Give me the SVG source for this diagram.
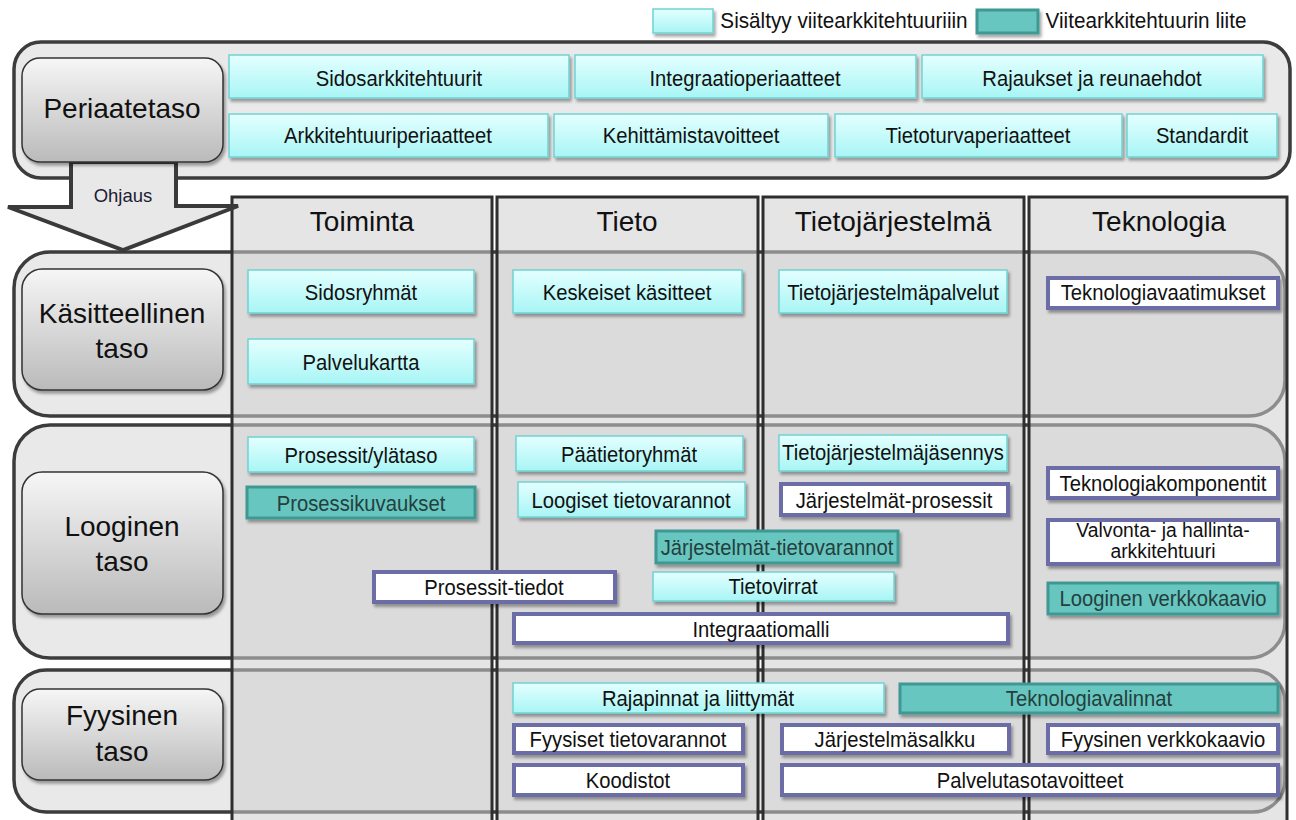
<svg xmlns="http://www.w3.org/2000/svg" width="1296" height="820" viewBox="0 0 1296 820">
  <defs>
    <linearGradient id="gCyan" x1="0" y1="0" x2="0" y2="1">
      <stop offset="0" stop-color="#e4ffff"/>
      <stop offset="1" stop-color="#a8f5f5"/>
    </linearGradient>
    <linearGradient id="gLevel" x1="0" y1="0" x2="0" y2="1">
      <stop offset="0" stop-color="#f6f6f6"/>
      <stop offset="1" stop-color="#bababa"/>
    </linearGradient>
    <filter id="shadow" x="-10%" y="-20%" width="125%" height="160%">
      <feDropShadow dx="2" dy="3" stdDeviation="1.6" flood-color="#000" flood-opacity="0.35"/>
    </filter>
  </defs>
  <style>
    text { font-family: "Liberation Sans", Arial, sans-serif; fill: #111; text-anchor: middle; }
    .band { fill: #e9e9e9; stroke: #3c3c3c; stroke-width: 3.5; }
    .col { fill: #cfcfcf; fill-opacity: 0.55; stroke: #2e2e2e; stroke-width: 3; }
    .level { fill: url(#gLevel); stroke: #333; stroke-width: 1.5; filter: url(#shadow); }
    .cyan { fill: url(#gCyan); stroke: #70d2d2; stroke-width: 1.5; filter: url(#shadow); }
    .teal { fill: #67c6c0; stroke: #3f9893; stroke-width: 3; filter: url(#shadow); }
    .white { fill: #fff; stroke: #6c6ca6; stroke-width: 4; filter: url(#shadow); }
    .hdr { font-size: 28px; }
    .lvl { font-size: 28px; }
    /* item labels use a slightly condensed face */
    .box, .leg { transform-box: fill-box; transform-origin: center; transform: scaleX(0.92); }
    .box { font-size: 22px; }
    .two { font-size: 21px; }
    .tealtxt { fill: #243f3d; }
    .leg { font-size: 22.5px; }
    .arrow { fill: #e8e8e8; stroke: #3a3a3a; stroke-width: 4; stroke-linejoin: miter; }
  </style>

  <!-- legend -->
  <g id="legend">
    <rect x="653" y="9" width="60" height="24" class="cyan"/>
    <text x="844" y="28" class="leg">Sisältyy viitearkkitehtuuriiin</text>
    <rect x="977" y="10" width="61" height="23" class="teal"/>
    <text x="1146" y="28" class="leg">Viitearkkitehtuurin liite</text>
  </g>

  <!-- horizontal level bands -->
  <g id="bands">
    <rect id="band-periaate" x="14" y="42" width="1276" height="136" rx="27" class="band"/>
    <rect id="band-kasitteellinen" x="14" y="252" width="1271" height="164" rx="36" class="band"/>
    <rect id="band-looginen" x="14" y="425" width="1271" height="233" rx="36" class="band"/>
    <rect id="band-fyysinen" x="14" y="670" width="1271" height="142" rx="32" class="band"/>
  </g>

  <!-- vertical architecture columns -->
  <g id="columns">
    <g id="col-toiminta">
      <rect x="232" y="197" width="260" height="640" class="col"/>
      <text x="362" y="231" class="hdr">Toiminta</text>
    </g>
    <g id="col-tieto">
      <rect x="497" y="197" width="261" height="640" class="col"/>
      <text x="627" y="231" class="hdr">Tieto</text>
    </g>
    <g id="col-tietojarjestelma">
      <rect x="763" y="197" width="261" height="640" class="col"/>
      <text x="893" y="231" class="hdr">Tietojärjestelmä</text>
    </g>
    <g id="col-teknologia">
      <rect x="1029" y="197" width="258" height="640" class="col"/>
      <text x="1159" y="231" class="hdr">Teknologia</text>
    </g>
  </g>

  <!-- steering arrow from the principle level -->
  <g id="connectors">
    <polygon class="arrow" points="71,162 71,207 8,207 123,250 238,206 176,206 176,162"/>
    <text x="123" y="202" style="font-size:18.5px;fill:#1c1c34">Ohjaus</text>
  </g>

  <!-- level labels -->
  <g id="lvl-periaatetaso">
    <rect x="22" y="58" width="201" height="104" rx="18" class="level"/>
    <text x="122" y="118" class="lvl">Periaatetaso</text>
  </g>
  <g id="lvl-kasitteellinen">
    <rect x="22" y="269" width="201" height="121" rx="20" class="level"/>
    <text x="122" y="323" class="lvl">Käsitteellinen</text>
    <text x="122" y="358" class="lvl">taso</text>
  </g>
  <g id="lvl-looginen">
    <rect x="22" y="472" width="201" height="142" rx="20" class="level"/>
    <text x="122" y="536" class="lvl">Looginen</text>
    <text x="122" y="571" class="lvl">taso</text>
  </g>
  <g id="lvl-fyysinen">
    <rect x="22" y="689" width="201" height="91" rx="18" class="level"/>
    <text x="122" y="725" class="lvl">Fyysinen</text>
    <text x="122" y="761" class="lvl">taso</text>
  </g>

  <!-- principle level items -->
  <g id="n-sidosarkkitehtuurit"><rect x="229" y="55" width="340" height="43" class="cyan"/><text x="399" y="86" class="box">Sidosarkkitehtuurit</text></g>
  <g id="n-integraatioperiaatteet"><rect x="575" y="55" width="341" height="43" class="cyan"/><text x="745" y="86" class="box">Integraatioperiaatteet</text></g>
  <g id="n-rajaukset"><rect x="922" y="55" width="341" height="43" class="cyan"/><text x="1092" y="86" class="box">Rajaukset ja reunaehdot</text></g>
  <g id="n-arkkitehtuuriperiaatteet"><rect x="229" y="114" width="319" height="43" class="cyan"/><text x="388" y="143" class="box">Arkkitehtuuriperiaatteet</text></g>
  <g id="n-kehittamistavoitteet"><rect x="554" y="114" width="274" height="43" class="cyan"/><text x="691" y="143" class="box">Kehittämistavoitteet</text></g>
  <g id="n-tietoturvaperiaatteet"><rect x="835" y="114" width="287" height="43" class="cyan"/><text x="978" y="143" class="box">Tietoturvaperiaatteet</text></g>
  <g id="n-standardit"><rect x="1127" y="114" width="150" height="43" class="cyan"/><text x="1202" y="143" class="box">Standardit</text></g>

  <!-- conceptual level items -->
  <g id="n-sidosryhmat"><rect x="248" y="270" width="226" height="43" class="cyan"/><text x="361" y="300" class="box">Sidosryhmät</text></g>
  <g id="n-palvelukartta"><rect x="248" y="339" width="226" height="45" class="cyan"/><text x="361" y="370" class="box">Palvelukartta</text></g>
  <g id="n-keskeiset-kasitteet"><rect x="513" y="270" width="229" height="43" class="cyan"/><text x="627" y="300" class="box">Keskeiset käsitteet</text></g>
  <g id="n-tj-palvelut"><rect x="779" y="270" width="228" height="43" class="cyan"/><text x="893" y="300" class="box">Tietojärjestelmäpalvelut</text></g>
  <g id="n-teknologiavaatimukset"><rect x="1048" y="278" width="230" height="30" class="white"/><text x="1163" y="300" class="box">Teknologiavaatimukset</text></g>

  <!-- logical level items -->
  <g id="n-prosessit-ylataso"><rect x="248" y="437" width="226" height="35" class="cyan"/><text x="361" y="463" class="box">Prosessit/ylätaso</text></g>
  <g id="n-prosessikuvaukset"><rect x="247" y="487" width="228" height="31" class="teal"/><text x="361" y="511" class="box tealtxt">Prosessikuvaukset</text></g>
  <g id="n-paatietoryhmat"><rect x="516" y="436" width="227" height="35" class="cyan"/><text x="629" y="462" class="box">Päätietoryhmät</text></g>
  <g id="n-loogiset-tietovarannot"><rect x="518" y="482" width="227" height="35" class="cyan"/><text x="631" y="508" class="box">Loogiset tietovarannot</text></g>
  <g id="n-tj-jasennys"><rect x="779" y="435" width="228" height="36" class="cyan"/><text x="893" y="460" class="box">Tietojärjestelmäjäsennys</text></g>
  <g id="n-jarjestelmat-prosessit"><rect x="781" y="484" width="227" height="31" class="white"/><text x="894" y="508" class="box">Järjestelmät-prosessit</text></g>
  <g id="n-jarjestelmat-tietovarannot"><rect x="656" y="531" width="242" height="32" class="teal"/><text x="777" y="555" class="box tealtxt">Järjestelmät-tietovarannot</text></g>
  <g id="n-tietovirrat"><rect x="653" y="572" width="241" height="29" class="cyan"/><text x="773" y="594" class="box">Tietovirrat</text></g>
  <g id="n-prosessit-tiedot"><rect x="374" y="572" width="241" height="30" class="white"/><text x="494" y="595" class="box">Prosessit-tiedot</text></g>
  <g id="n-integraatiomalli"><rect x="514" y="614" width="494" height="29" class="white"/><text x="761" y="637" class="box">Integraatiomalli</text></g>
  <g id="n-teknologiakomponentit"><rect x="1048" y="468" width="230" height="30" class="white"/><text x="1163" y="491" class="box">Teknologiakomponentit</text></g>
  <g id="n-valvonta"><rect x="1048" y="520" width="230" height="44" class="white"/><text x="1163" y="537" class="box two">Valvonta- ja hallinta-</text><text x="1163" y="558" class="box two">arkkitehtuuri</text></g>
  <g id="n-looginen-verkkokaavio"><rect x="1048" y="583" width="230" height="31" class="teal"/><text x="1163" y="606" class="box tealtxt">Looginen verkkokaavio</text></g>

  <!-- physical level items -->
  <g id="n-rajapinnat"><rect x="513" y="683" width="371" height="30" class="cyan"/><text x="698" y="706" class="box">Rajapinnat ja liittymät</text></g>
  <g id="n-teknologiavalinnat"><rect x="900" y="684" width="378" height="29" class="teal"/><text x="1089" y="706" class="box tealtxt">Teknologiavalinnat</text></g>
  <g id="n-fyysiset-tietovarannot"><rect x="514" y="725" width="229" height="28" class="white"/><text x="628" y="747" class="box">Fyysiset tietovarannot</text></g>
  <g id="n-koodistot"><rect x="514" y="765" width="229" height="30" class="white"/><text x="628" y="788" class="box">Koodistot</text></g>
  <g id="n-jarjestelmasalkku"><rect x="782" y="725" width="227" height="28" class="white"/><text x="895" y="747" class="box">Järjestelmäsalkku</text></g>
  <g id="n-fyysinen-verkkokaavio"><rect x="1048" y="725" width="230" height="28" class="white"/><text x="1163" y="747" class="box">Fyysinen verkkokaavio</text></g>
  <g id="n-palvelutasotavoitteet"><rect x="782" y="765" width="496" height="30" class="white"/><text x="1030" y="788" class="box">Palvelutasotavoitteet</text></g>
</svg>
